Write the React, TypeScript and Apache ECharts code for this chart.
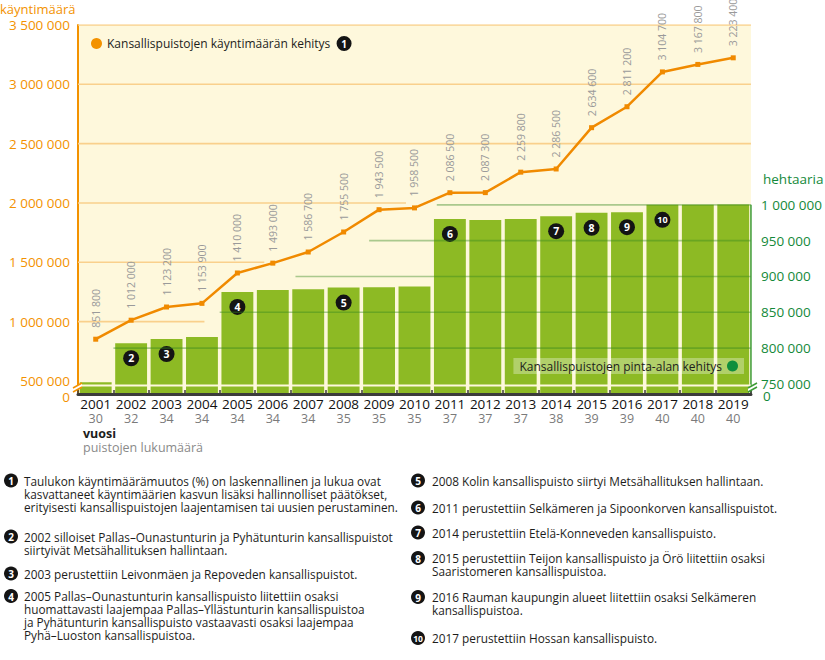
import React, { useEffect, useRef } from "react";
import * as echarts from "echarts";

const years = ["2001","2002","2003","2004","2005","2006","2007","2008","2009","2010","2011","2012","2013","2014","2015","2016","2017","2018","2019"];
const parkCounts = [30,32,34,34,34,34,34,35,35,35,37,37,37,38,39,39,40,40,40];
const visits = [851800,1012000,1123200,1153900,1410000,1493000,1586700,1755500,1943500,1958500,2086500,2087300,2259800,2286500,2634600,2811200,3104700,3167800,3223400];
const areaHa = [752300,806800,812800,815600,878500,881200,882200,884500,885000,885900,980400,979000,980400,984200,988800,989800,1000000,1000200,1000400];
const noteYears = ["2002","2003","2005","2008","2011","2014","2015","2016","2017"];
const noteNumbers = ["2","3","4","5","6","7","8","9","10"];

const leftTicks = [500000,1000000,1500000,2000000,2500000,3000000,3500000];
const rightTicks = [750000,800000,850000,900000,950000,1000000];
const leftMin = 390000, leftMax = 3500000;
const rightMin = 736000, rightMax = 1251000;

// gridlines: [value, from (year), to (year)]
const orangeGrid = [[3500000,2000.5,2019.5],[3000000,2000.5,2019.5],[2500000,2000.5,2019.5],[2000000,2000.5,2009.76],[1500000,2000.5,2005.76],[1000000,2000.5,2004.07]];
const greenGrid = [[800000,2001.5,2019.5],[850000,2004.5,2019.5],[900000,2006.64,2019.5],[950000,2008.72,2019.5],[1000000,2010.63,2019.5]];
const breakValue = 461600;

const notesLeft = [
  { n: "1", lines: ["Taulukon käyntimäärämuutos (%) on laskennallinen ja lukua ovat", "kasvattaneet käyntimäärien kasvun lisäksi hallinnolliset päätökset,", "erityisesti kansallispuistojen laajentamisen tai uusien perustaminen."] },
  { n: "2", lines: ["2002 silloiset Pallas–Ounastunturin ja Pyhätunturin kansallispuistot", "siirtyivät Metsähallituksen hallintaan."] },
  { n: "3", lines: ["2003 perustettiin Leivonmäen ja Repoveden kansallispuistot."] },
  { n: "4", lines: ["2005 Pallas–Ounastunturin kansallispuisto liitettiin osaksi", "huomattavasti laajempaa Pallas–Yllästunturin kansallispuistoa", "ja Pyhätunturin kansallispuisto vastaavasti osaksi laajempaa", "Pyhä–Luoston kansallispuistoa."] },
];
const notesRight = [
  { n: "5", lines: ["2008 Kolin kansallispuisto siirtyi Metsähallituksen hallintaan."] },
  { n: "6", lines: ["2011 perustettiin Selkämeren ja Sipoonkorven kansallispuistot."] },
  { n: "7", lines: ["2014 perustettiin Etelä-Konneveden kansallispuisto."] },
  { n: "8", lines: ["2015 perustettiin Teijon kansallispuisto ja Örö liitettiin osaksi", "Saaristomeren kansallispuistoa."] },
  { n: "9", lines: ["2016 Rauman kaupungin alueet liitettiin osaksi Selkämeren", "kansallispuistoa."] },
  { n: "10", lines: ["2017 perustettiin Hossan kansallispuisto."] },
];
const notesLeftY = [480.5, 536.5, 573.5, 596];
const notesRightY = [480.5, 507.5, 532.5, 558, 597, 638];

const ORANGE = "#F39200";
const LINE_ORANGE = "#F08A00";
const GREEN_TEXT = "#14893A";
const BAR_GREEN = "#8DBA24";
const CREAM = "#FEF8DC";
const FONT = "'Open Sans', 'Noto Sans', sans-serif";

const fmt = (v: number) => String(v).replace(/\B(?=(\d{3})+(?!\d))/g, " ");

function noteGraphics(notes: { n: string; lines: string[] }[], ys: number[], cx: number, tx: number) {
  const els: any[] = [];
  const lh = 13;
  notes.forEach((note, i) => {
    const cy = ys[i];
    els.push({ type: "circle", shape: { cx, cy, r: 7 }, style: { fill: "#141414" } });
    els.push({ type: "text", style: { text: note.n, x: cx, y: cy + 0.5, align: "center", verticalAlign: "middle", fill: "#fff", font: `bold ${note.n.length > 1 ? 8.5 : 10}px ${FONT}` } });
    els.push({ type: "text", style: { text: note.lines.join("\n"), x: tx, y: cy - lh / 2, verticalAlign: "top", fill: "#1d1d1b", font: `11.8px ${FONT}`, lineHeight: lh } });
  });
  return els;
}

export default function App() {
  const ref = useRef<HTMLDivElement>(null);
  useEffect(() => {
    if (!ref.current) return;
    const chart = echarts.init(ref.current, null, { renderer: "svg" });

    const barData = areaHa.map((v, i) => {
      const k = noteYears.indexOf(years[i]);
      if (k < 0) return v;
      return { value: v, label: { show: true, formatter: noteNumbers[k], fontSize: noteNumbers[k].length > 1 ? 9 : 10.5 } };
    });

    const gridSeries: any[] = [];
    orangeGrid.forEach((g) => {
      gridSeries.push({ type: "line", xAxisIndex: 1, yAxisIndex: 0, data: [[g[1], g[0]], [g[2], g[0]]], symbol: "none", silent: true, z: 1, lineStyle: { color: "#F9D08C", width: 1.6 } });
    });
    greenGrid.forEach((g) => {
      gridSeries.push({ type: "line", xAxisIndex: 1, yAxisIndex: 1, data: [[g[1], g[0]], [g[2], g[0]]], symbol: "none", silent: true, z: 3, lineStyle: { color: "rgba(55,135,30,0.42)", width: 1.6 } });
    });
    // right edge of the area scale
    gridSeries.push({ type: "line", xAxisIndex: 1, yAxisIndex: 1, data: [[2019.5, rightMin], [2019.5, 1000000]], symbol: "none", silent: true, z: 3, lineStyle: { color: "#3d9b35", width: 1.5 } });
    gridSeries.push({ type: "line", xAxisIndex: 1, yAxisIndex: 0, data: [[2000.5, breakValue], [2019.5, breakValue]], symbol: "none", silent: true, z: 4, lineStyle: { color: CREAM, width: 2 } });

    const option: any = {
      animation: false,
      textStyle: { fontFamily: FONT },
      grid: { left: 78, right: 72, top: 25, bottom: 266, show: true, backgroundColor: CREAM, borderWidth: 0 },
      legend: [
        {
          data: [{ name: "Kansallispuistojen käyntimäärän kehitys", icon: "circle", itemStyle: { color: ORANGE } }],
          left: 91, top: 36, padding: 0, itemWidth: 11, itemHeight: 11, itemGap: 5,
          formatter: (n: string) => `${n}  {b|1}`,
          textStyle: { fontSize: 12, color: "#1d1d1b", fontFamily: FONT,
            rich: { b: { backgroundColor: "#141414", color: "#fff", borderRadius: 8, width: 15, height: 15, lineHeight: 15, align: "center", fontWeight: "bold", fontSize: 10, fontFamily: FONT } } },
          selectedMode: false,
        },
        {
          data: [{ name: "Kansallispuistojen pinta-alan kehitys", icon: "circle", itemStyle: { color: "#0F8E3C" } }],
          right: 81, top: 358, padding: [2, 6, 2, 6], align: "right", itemWidth: 11, itemHeight: 11,
          backgroundColor: "rgba(255,255,255,0.32)",
          textStyle: { fontSize: 12, color: "#1d1d1b", fontFamily: FONT },
          selectedMode: false,
        },
      ],
      xAxis: [
        {
          type: "category", data: years, z: 10,
          axisLine: { lineStyle: { color: "#3c3c3b", width: 3 } },
          axisTick: { show: true, inside: true, length: 4, lineStyle: { color: "#3c3c3b", width: 1.5 } },
          axisLabel: {
            margin: 2, interval: 0,
            formatter: (v: string, i: number) => `{y|${v}}\n{n|${parkCounts[i]}}`,
            rich: {
              y: { fontSize: 13.5, color: "#111", lineHeight: 15, fontFamily: FONT },
              n: { fontSize: 12.5, color: "#7a7a7a", lineHeight: 15, fontFamily: FONT },
            },
          },
          splitLine: { show: false },
        },
        { type: "value", min: 2000.5, max: 2019.5, show: false },
      ],
      yAxis: [
        {
          type: "value", min: leftMin, max: leftMax, position: "left",
          axisLine: { show: true, lineStyle: { color: ORANGE, width: 2 } },
          axisTick: { show: false },
          splitLine: { show: false },
          axisLabel: { customValues: leftTicks, formatter: (v: number) => fmt(v), color: ORANGE, fontSize: 13.5, margin: 8, fontFamily: FONT },
        },
        {
          type: "value", min: rightMin, max: rightMax, position: "right",
          axisLine: { show: false },
          axisTick: { show: false },
          splitLine: { show: false },
          axisLabel: { customValues: rightTicks, formatter: (v: number) => fmt(v), color: GREEN_TEXT, fontSize: 13.5, margin: 10, fontFamily: FONT },
        },
      ],
      series: [
        ...gridSeries,
        {
          name: "Kansallispuistojen pinta-alan kehitys", type: "bar", xAxisIndex: 0, yAxisIndex: 1, data: barData, z: 2,
          barCategoryGap: "10%",
          itemStyle: { color: BAR_GREEN },
          label: { show: false, position: "insideTop", distance: 7, backgroundColor: "#141414", color: "#fff", borderRadius: 8, width: 16, height: 16, lineHeight: 16, align: "center", fontWeight: "bold", fontFamily: FONT, padding: 0 },
        },
        {
          name: "Kansallispuistojen käyntimäärän kehitys", type: "line", xAxisIndex: 0, yAxisIndex: 0, data: visits, z: 5,
          symbol: "rect", symbolSize: 5, itemStyle: { color: LINE_ORANGE }, lineStyle: { color: LINE_ORANGE, width: 2.5 },
          label: { show: true, position: "top", rotate: 90, align: "left", verticalAlign: "middle", distance: 9, color: "#9a9a9a", fontSize: 10.5, fontFamily: FONT, formatter: (p: any) => fmt(p.value) },
        },
      ],
      graphic: [
        { type: "text", style: { text: "käyntimäärä", x: 0, y: 9, verticalAlign: "middle", fill: ORANGE, font: `13px ${FONT}` } },
        { type: "text", style: { text: "hehtaaria", x: 763, y: 179, verticalAlign: "middle", fill: GREEN_TEXT, font: `13.5px ${FONT}` } },
        { type: "text", style: { text: "0", x: 70, y: 397, align: "right", verticalAlign: "middle", fill: ORANGE, font: `13.5px ${FONT}` } },
        { type: "text", style: { text: "0", x: 763, y: 396, align: "left", verticalAlign: "middle", fill: GREEN_TEXT, font: `13.5px ${FONT}` } },
        { type: "text", style: { text: "vuosi", x: 83, y: 433.5, verticalAlign: "middle", fill: "#1d1d1b", font: `bold 12.5px ${FONT}` } },
        { type: "text", style: { text: "puistojen lukumäärä", x: 83, y: 447, verticalAlign: "middle", fill: "#8a8a8a", font: `12.5px ${FONT}` } },
        // axis break marks
        { type: "polygon", shape: { points: [[73, 388], [82, 383], [82, 387], [73, 392]] }, style: { fill: "#fff" }, z: 20 },
        { type: "line", shape: { x1: 73, y1: 388, x2: 82, y2: 383 }, style: { stroke: ORANGE, lineWidth: 1.5 }, z: 21 },
        { type: "line", shape: { x1: 73, y1: 392, x2: 82, y2: 387 }, style: { stroke: ORANGE, lineWidth: 1.5 }, z: 21 },
        { type: "polygon", shape: { points: [[748, 388], [757, 383], [757, 387], [748, 392]] }, style: { fill: "#fff" }, z: 20 },
        { type: "line", shape: { x1: 748, y1: 388, x2: 757, y2: 383 }, style: { stroke: "#3d9b35", lineWidth: 1.5 }, z: 21 },
        { type: "line", shape: { x1: 748, y1: 392, x2: 757, y2: 387 }, style: { stroke: "#3d9b35", lineWidth: 1.5 }, z: 21 },
        ...noteGraphics(notesLeft, notesLeftY, 11, 24),
        ...noteGraphics(notesRight, notesRightY, 418, 432),
      ],
    };
    chart.setOption(option);
    return () => chart.dispose();
  }, []);
  return <div ref={ref} style={{ position: "fixed", left: 0, top: 0, width: 825, height: 660, background: "#fff" }} />;
}
